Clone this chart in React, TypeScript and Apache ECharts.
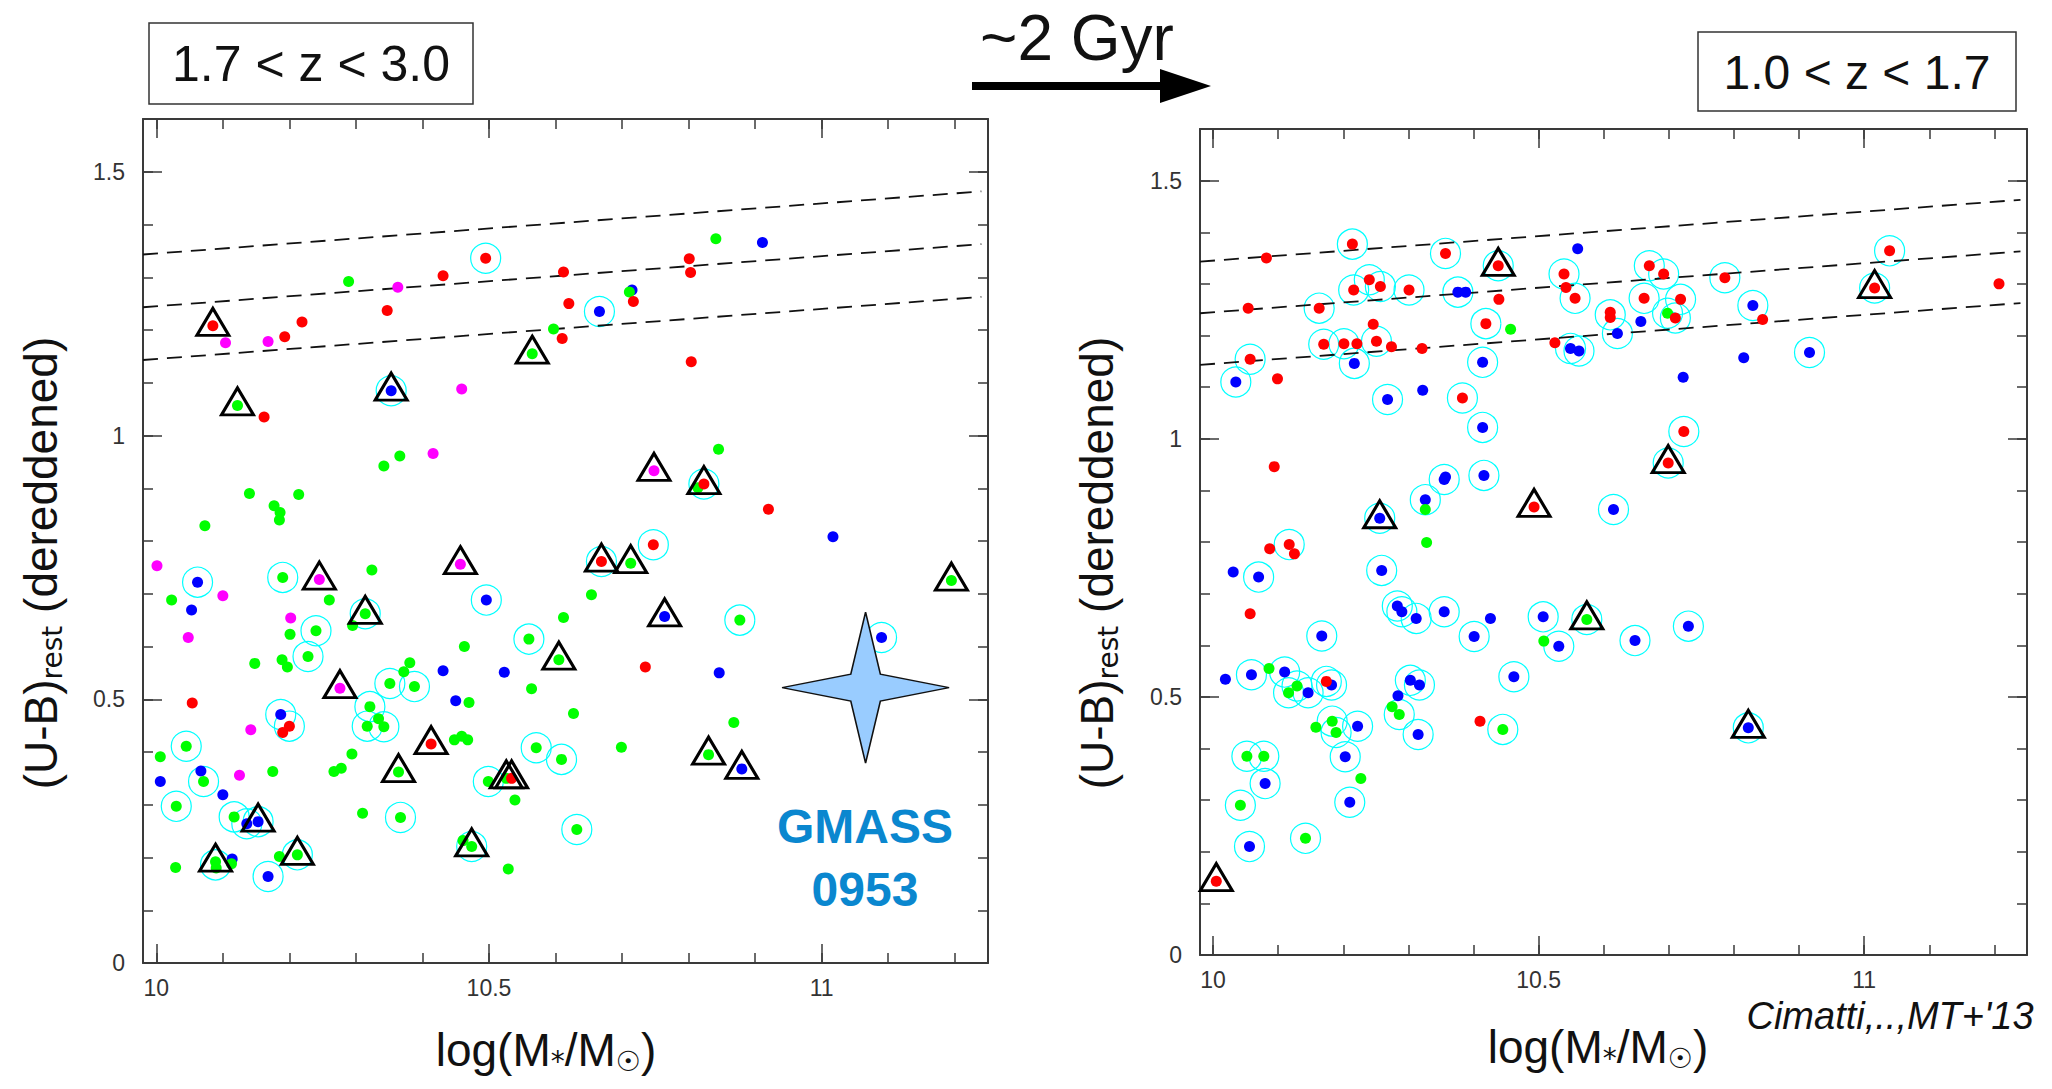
import React, { useEffect, useRef } from 'react';
import * as echarts from 'echarts';

// ---------- axes ----------
const xRange = [9.98, 11.25];
const yRange = [0, 1.6];
const xMinorTicks = [10.0, 10.1, 10.2, 10.3, 10.4, 10.5, 10.6, 10.7, 10.8, 10.9, 11.0, 11.1, 11.2];
const xMajorTicks = [10, 10.5, 11];
const yMinorTicks = [0.1, 0.2, 0.3, 0.4, 0.5, 0.6, 0.7, 0.8, 0.9, 1.0, 1.1, 1.2, 1.3, 1.4, 1.5];
const yMajorTicks = [0, 0.5, 1, 1.5];

// red-sequence dashed lines: y = offset + slope * (x - 10)
const redSeqOffsets = [1.345, 1.245, 1.145];
const redSeqSlope = 0.095;
const redSeqX = [9.98, 11.24];

// ---------- left panel: 1.7 < z < 3.0 ----------
const leftRed = [
  [10.085, 1.208], [10.193, 1.187], [10.219, 1.215], [10.347, 1.237], [10.431, 1.303], [10.495, 1.336],
  [10.612, 1.31], [10.62, 1.25], [10.61, 1.184], [10.162, 1.035], [10.717, 1.254], [10.801, 1.335],
  [10.803, 1.309], [10.804, 1.14], [10.823, 0.908], [10.92, 0.86], [10.747, 0.793], [10.054, 0.493],
  [10.2, 0.449], [10.19, 0.437], [10.413, 0.415], [10.534, 0.35], [10.669, 0.761], [10.735, 0.561],
];
const leftGreen = [
  [10.289, 1.292], [10.597, 1.202], [10.565, 1.155], [10.122, 1.057], [10.342, 0.942], [10.366, 0.961],
  [10.14, 0.89], [10.177, 0.867], [10.186, 0.854], [10.185, 0.84], [10.214, 0.888], [10.073, 0.829],
  [10.711, 1.272], [10.841, 1.373], [10.845, 0.974], [10.814, 0.901],
  [10.19, 0.731], [10.324, 0.745], [10.023, 0.688], [10.26, 0.688], [10.314, 0.662], [10.295, 0.64],
  [10.201, 0.623], [10.24, 0.63], [10.612, 0.655], [10.56, 0.614], [10.463, 0.6], [10.228, 0.581],
  [10.148, 0.568], [10.189, 0.575], [10.197, 0.561], [10.605, 0.575], [10.381, 0.569], [10.372, 0.552],
  [10.351, 0.53], [10.388, 0.524], [10.564, 0.52], [10.47, 0.494], [10.627, 0.473], [10.321, 0.486],
  [10.334, 0.463], [10.317, 0.449], [10.342, 0.448], [10.448, 0.423], [10.459, 0.43], [10.468, 0.423],
  [10.571, 0.408], [10.609, 0.386], [10.294, 0.396], [10.267, 0.363], [10.278, 0.369], [10.175, 0.363],
  [10.364, 0.362], [10.045, 0.411], [10.006, 0.391], [10.071, 0.344], [10.03, 0.297], [10.117, 0.277],
  [10.31, 0.284], [10.367, 0.276], [10.499, 0.344], [10.526, 0.35], [10.539, 0.309], [10.632, 0.253],
  [10.474, 0.221], [10.461, 0.232], [10.529, 0.178], [10.089, 0.192], [10.09, 0.18], [10.113, 0.188],
  [10.029, 0.181], [10.185, 0.202], [10.212, 0.205],
  [10.713, 0.758], [11.195, 0.725], [10.654, 0.698], [10.877, 0.65], [10.868, 0.456], [10.699, 0.409],
  [10.83, 0.395],
];
const leftBlue = [
  [10.353, 1.085], [10.666, 1.235], [10.715, 1.276], [10.911, 1.366], [11.017, 0.808], [10.062, 0.722],
  [10.496, 0.688], [10.053, 0.669], [10.431, 0.554], [10.523, 0.551], [10.45, 0.497], [10.187, 0.471],
  [10.006, 0.344], [10.067, 0.364], [10.1, 0.319], [10.136, 0.264], [10.153, 0.268], [10.114, 0.197],
  [10.168, 0.164], [10.764, 0.657], [11.09, 0.617], [10.846, 0.55], [10.88, 0.368],
];
const leftMagenta = [
  [10.104, 1.176], [10.168, 1.178], [10.363, 1.281], [10.459, 1.088], [10.416, 0.966], [10.001, 0.753],
  [10.245, 0.727], [10.457, 0.756], [10.1, 0.696], [10.202, 0.654], [10.048, 0.617], [10.276, 0.521],
  [10.142, 0.442], [10.125, 0.356], [10.748, 0.933],
];
const leftRings = [
  [10.495, 1.336], [10.353, 1.085], [10.666, 1.235], [10.823, 0.908], [10.747, 0.793], [10.062, 0.722],
  [10.19, 0.731], [10.496, 0.688], [10.314, 0.662], [10.24, 0.63], [10.56, 0.614], [10.228, 0.581],
  [10.351, 0.53], [10.388, 0.524], [10.187, 0.471], [10.2, 0.449], [10.321, 0.486], [10.317, 0.449],
  [10.342, 0.448], [10.571, 0.408], [10.609, 0.386], [10.045, 0.411], [10.071, 0.344], [10.03, 0.297],
  [10.117, 0.277], [10.136, 0.264], [10.153, 0.268], [10.367, 0.276], [10.499, 0.344], [10.632, 0.253],
  [10.474, 0.221], [10.089, 0.186], [10.212, 0.205], [10.168, 0.164], [10.669, 0.761], [10.877, 0.65],
  [11.09, 0.617],
];
const leftTriangles = [
  [10.085, 1.208], [10.565, 1.155], [10.353, 1.085], [10.122, 1.057], [10.748, 0.933], [10.823, 0.908],
  [10.245, 0.727], [10.457, 0.756], [10.314, 0.662], [10.605, 0.575], [10.276, 0.521], [10.413, 0.415],
  [10.364, 0.362], [10.526, 0.35], [10.534, 0.35], [10.153, 0.268], [10.474, 0.221], [10.089, 0.192],
  [10.212, 0.205], [10.669, 0.761], [10.713, 0.758], [11.195, 0.725], [10.764, 0.657], [10.83, 0.395],
  [10.88, 0.368],
];
const gmassPoint = [[11.066, 0.522]];

// ---------- right panel: 1.0 < z < 1.7 ----------
const rightRed = [
  [10.082, 1.35], [10.214, 1.377], [10.357, 1.359], [10.438, 1.335], [10.539, 1.319], [10.542, 1.293],
  [10.556, 1.272], [10.61, 1.245], [10.61, 1.235], [10.24, 1.308], [10.257, 1.295], [10.216, 1.288],
  [10.301, 1.288], [10.439, 1.27], [10.054, 1.253], [10.163, 1.253], [10.246, 1.222], [10.419, 1.223],
  [10.17, 1.183], [10.201, 1.184], [10.221, 1.184], [10.251, 1.189], [10.274, 1.178], [10.321, 1.175],
  [10.057, 1.154], [10.525, 1.186], [10.099, 1.116], [10.383, 1.079], [10.094, 0.946], [10.493, 0.868],
  [10.67, 1.335], [10.692, 1.319], [10.662, 1.272], [10.718, 1.27], [10.71, 1.234], [10.786, 1.312],
  [10.844, 1.231], [11.039, 1.364], [11.016, 1.292], [11.207, 1.3], [10.723, 1.014], [10.699, 0.953],
  [10.117, 0.795], [10.087, 0.787], [10.125, 0.777], [10.057, 0.661], [10.174, 0.53], [10.41, 0.453],
  [10.005, 0.143],
];
const rightGreen = [
  [10.457, 1.212], [10.326, 0.863], [10.328, 0.799], [10.698, 1.243], [10.574, 0.65], [10.508, 0.608],
  [10.086, 0.555], [10.129, 0.521], [10.116, 0.508], [10.275, 0.481], [10.286, 0.466], [10.445, 0.437],
  [10.158, 0.441], [10.183, 0.453], [10.189, 0.431], [10.052, 0.385], [10.078, 0.385], [10.227, 0.342],
  [10.042, 0.29], [10.142, 0.226],
];
const rightBlue = [
  [10.56, 1.368], [10.621, 1.204], [10.376, 1.284], [10.388, 1.284], [10.549, 1.175], [10.562, 1.17],
  [10.217, 1.146], [10.414, 1.148], [10.035, 1.11], [10.268, 1.076], [10.322, 1.094], [10.414, 1.022],
  [10.355, 0.921], [10.357, 0.926], [10.416, 0.929], [10.326, 0.882], [10.256, 0.846], [10.615, 0.863],
  [10.657, 1.227], [10.829, 1.258], [10.916, 1.167], [10.815, 1.157], [10.722, 1.119], [10.031, 0.742],
  [10.07, 0.732], [10.259, 0.745], [10.283, 0.676], [10.29, 0.665], [10.312, 0.652], [10.355, 0.665],
  [10.401, 0.617], [10.426, 0.652], [10.507, 0.655], [10.531, 0.598], [10.167, 0.618], [10.019, 0.534],
  [10.059, 0.543], [10.11, 0.548], [10.146, 0.508], [10.182, 0.523], [10.303, 0.532], [10.317, 0.523],
  [10.284, 0.502], [10.462, 0.539], [10.315, 0.427], [10.222, 0.443], [10.203, 0.384], [10.08, 0.332],
  [10.21, 0.296], [10.056, 0.21], [10.648, 0.609], [10.73, 0.637], [10.822, 0.44],
];
const rightRings = [
  [10.214, 1.377], [10.357, 1.359], [10.438, 1.335], [10.539, 1.319], [10.556, 1.272], [10.61, 1.24],
  [10.621, 1.204], [10.24, 1.308], [10.257, 1.295], [10.216, 1.288], [10.301, 1.288], [10.376, 1.284],
  [10.163, 1.253], [10.419, 1.223], [10.17, 1.183], [10.201, 1.184], [10.251, 1.189], [10.057, 1.154],
  [10.549, 1.175], [10.562, 1.17], [10.217, 1.146], [10.414, 1.148], [10.035, 1.11], [10.268, 1.076],
  [10.383, 1.079], [10.414, 1.022], [10.355, 0.921], [10.416, 0.929], [10.326, 0.882], [10.256, 0.846],
  [10.615, 0.863], [10.67, 1.335], [10.692, 1.319], [10.662, 1.272], [10.718, 1.27], [10.698, 1.243],
  [10.71, 1.234], [10.786, 1.312], [10.829, 1.258], [11.039, 1.364], [11.016, 1.292], [10.916, 1.167],
  [10.723, 1.014], [10.699, 0.953], [10.117, 0.795], [10.07, 0.732], [10.259, 0.745], [10.283, 0.676],
  [10.29, 0.665], [10.312, 0.652], [10.355, 0.665], [10.401, 0.617], [10.507, 0.655], [10.574, 0.65],
  [10.531, 0.598], [10.167, 0.618], [10.059, 0.543], [10.11, 0.548], [10.129, 0.521], [10.116, 0.508],
  [10.146, 0.508], [10.174, 0.53], [10.182, 0.523], [10.303, 0.532], [10.317, 0.523], [10.462, 0.539],
  [10.286, 0.466], [10.315, 0.427], [10.445, 0.437], [10.183, 0.453], [10.189, 0.431], [10.222, 0.443],
  [10.203, 0.384], [10.052, 0.385], [10.078, 0.385], [10.08, 0.332], [10.21, 0.296], [10.042, 0.29],
  [10.142, 0.226], [10.056, 0.21], [10.648, 0.609], [10.73, 0.637], [10.822, 0.44],
];
const rightTriangles = [
  [10.438, 1.335], [10.256, 0.846], [10.493, 0.868], [11.016, 1.292], [10.699, 0.953], [10.574, 0.65],
  [10.005, 0.143], [10.822, 0.44],
];

const FONT = "'Liberation Sans', Arial, Helvetica, sans-serif";
const SYMFONT = "'DejaVu Sans', 'Liberation Sans', sans-serif";
const FRAME = '#3a3a3a';
const TICKFONT = 23;

function makeXAxes(gridIndex: number) {
  const base: any = {
    type: 'value', gridIndex, min: xRange[0], max: xRange[1],
    splitLine: { show: false },
    axisLine: { show: false, onZero: false },
    axisLabel: { show: false },
    axisTick: { show: false },
  };
  const line = { show: true, onZero: false, lineStyle: { color: FRAME, width: 2 } };
  const minor = { show: true, inside: true, length: 10, customValues: xMinorTicks, lineStyle: { color: FRAME, width: 1.5 } };
  const major = { show: true, inside: true, length: 19, customValues: xMajorTicks, lineStyle: { color: FRAME, width: 1.5 } };
  return [
    {
      ...base, position: 'bottom', axisLine: line, axisTick: minor,
      axisLabel: {
        show: true, customValues: xMajorTicks, margin: 13, color: '#333', fontSize: TICKFONT, fontFamily: FONT,
        formatter: (v: number) => String(v),
      },
    },
    { ...base, position: 'bottom', axisTick: major },
    { ...base, position: 'top', axisLine: line, axisTick: minor },
    { ...base, position: 'top', axisTick: major },
  ];
}

function makeYAxes(gridIndex: number, margin: number) {
  const base: any = {
    type: 'value', gridIndex, min: yRange[0], max: yRange[1],
    splitLine: { show: false },
    axisLine: { show: false, onZero: false },
    axisLabel: { show: false },
    axisTick: { show: false },
  };
  const line = { show: true, onZero: false, lineStyle: { color: FRAME, width: 2 } };
  const minor = { show: true, inside: true, length: 10, customValues: yMinorTicks, lineStyle: { color: FRAME, width: 1.5 } };
  const major = { show: true, inside: true, length: 19, customValues: yMajorTicks, lineStyle: { color: FRAME, width: 1.5 } };
  return [
    {
      ...base, position: 'left', axisLine: line, axisTick: minor,
      axisLabel: {
        show: true, customValues: yMajorTicks, margin, color: '#333', fontSize: TICKFONT, fontFamily: FONT,
        formatter: (v: number) => String(v),
      },
    },
    { ...base, position: 'left', axisTick: major },
    { ...base, position: 'right', axisLine: line, axisTick: minor },
    { ...base, position: 'right', axisTick: major },
  ];
}

function panelSeries(axisIndex: number, red: number[][], green: number[][], blue: number[][], magenta: number[][], rings: number[][], tris: number[][]) {
  const ax = { xAxisIndex: axisIndex, yAxisIndex: axisIndex };
  const dot = (data: number[][], color: string) => ({
    type: 'scatter', ...ax, data, symbol: 'circle', symbolSize: 11, z: 4,
    itemStyle: { color, opacity: 1 }, silent: true,
  });
  const lines = redSeqOffsets.map((off) => ({
    type: 'line', ...ax, z: 3, symbol: 'none', silent: true,
    data: redSeqX.map((x) => [x, off + redSeqSlope * (x - 10)]),
    lineStyle: { color: '#111', width: 1.8, type: [15, 9] },
  }));
  const out: any[] = [
    {
      type: 'scatter', ...ax, data: rings, symbol: 'circle', symbolSize: 30, z: 2, silent: true,
      itemStyle: { color: 'rgba(0,0,0,0)', borderColor: '#00ffff', borderWidth: 1.2, opacity: 1 },
    },
    ...lines,
    dot(blue, '#0000ff'),
    dot(green, '#00ff00'),
    dot(red, '#ff0000'),
  ];
  if (magenta.length) out.push(dot(magenta, '#ff00ff'));
  out.push({
    type: 'scatter', ...ax, data: tris, symbol: 'triangle', symbolSize: [32, 27], symbolOffset: [0, -4], z: 5, silent: true,
    itemStyle: { color: 'rgba(0,0,0,0)', borderColor: '#000', borderWidth: 3, opacity: 1 },
  });
  return out;
}

const subRich = {
  s: { fontSize: 28, fontFamily: SYMFONT, fill: '#111', padding: [22, 0, 0, 0], verticalAlign: 'bottom' },
};

export default function App() {
  const ref = useRef<HTMLDivElement>(null);
  useEffect(() => {
    document.body.style.margin = '0';
    document.body.style.overflow = 'hidden';
    const chart = echarts.init(ref.current!, null, { renderer: 'svg' });
    const option: any = {
      animation: false,
      backgroundColor: '#ffffff',
      grid: [
        { left: 143, top: 119, width: 845, height: 844 },
        { left: 1200, top: 129, width: 827, height: 826 },
      ],
      xAxis: [...makeXAxes(0), ...makeXAxes(1)],
      yAxis: [...makeYAxes(0, 18), ...makeYAxes(1, 18)],
      series: [
        ...panelSeries(0, leftRed, leftGreen, leftBlue, leftMagenta, leftRings, leftTriangles),
        {
          type: 'scatter', xAxisIndex: 0, yAxisIndex: 0, data: gmassPoint, z: 6, silent: true,
          symbol: 'path://M83,0 L97.7,61.7 L166,75 L97.7,88.3 L83,150 L68.3,88.3 L0,75 L68.3,61.7 Z',
          symbolSize: [167, 151],
          itemStyle: { color: '#99ccff', borderColor: '#111', borderWidth: 1.5, opacity: 1 },
        },
        ...panelSeries(4, rightRed, rightGreen, rightBlue, [], rightRings, rightTriangles),
      ],
      graphic: [
        { type: 'rect', shape: { x: 149, y: 23, width: 324, height: 81 }, style: { fill: '#fff', stroke: '#333', lineWidth: 1.5 } },
        { type: 'text', x: 311, y: 64, style: { text: '1.7 < z < 3.0', fontSize: 50, fontFamily: FONT, fill: '#111', align: 'center', verticalAlign: 'middle' } },
        { type: 'rect', shape: { x: 1698, y: 32, width: 318, height: 79 }, style: { fill: '#fff', stroke: '#333', lineWidth: 1.5 } },
        { type: 'text', x: 1857, y: 72, style: { text: '1.0 < z < 1.7', fontSize: 48, fontFamily: FONT, fill: '#111', align: 'center', verticalAlign: 'middle' } },
        { type: 'text', x: 1077, y: 38, style: { text: '~2 Gyr', fontSize: 64, fontFamily: FONT, fill: '#111', align: 'center', verticalAlign: 'middle' } },
        { type: 'rect', shape: { x: 972, y: 82, width: 192, height: 8 }, style: { fill: '#000' } },
        { type: 'polygon', shape: { points: [[1160, 69], [1211, 86], [1160, 103]] }, style: { fill: '#000' } },
        {
          type: 'text', x: 546, y: 1050,
          style: { text: 'log(M{s|*}/M{s|☉})', fontSize: 46, fontFamily: FONT, fill: '#111', align: 'center', verticalAlign: 'middle', rich: subRich },
        },
        {
          type: 'text', x: 1598, y: 1047,
          style: { text: 'log(M{s|*}/M{s|☉})', fontSize: 46, fontFamily: FONT, fill: '#111', align: 'center', verticalAlign: 'middle', rich: subRich },
        },
        {
          type: 'text', x: 41, y: 563, rotation: Math.PI / 2,
          style: { text: '(U-B){s|rest} (dereddened)', fontSize: 46, fontFamily: FONT, fill: '#111', align: 'center', verticalAlign: 'middle', rich: subRich },
        },
        {
          type: 'text', x: 1097, y: 563, rotation: Math.PI / 2,
          style: { text: '(U-B){s|rest} (dereddened)', fontSize: 46, fontFamily: FONT, fill: '#111', align: 'center', verticalAlign: 'middle', rich: subRich },
        },
        { type: 'text', x: 865, y: 826, z: 10, style: { text: 'GMASS', fontSize: 48, fontWeight: 'bold', fontFamily: FONT, fill: '#0a87cf', align: 'center', verticalAlign: 'middle' } },
        { type: 'text', x: 865, y: 889, z: 10, style: { text: '0953', fontSize: 48, fontWeight: 'bold', fontFamily: FONT, fill: '#0a87cf', align: 'center', verticalAlign: 'middle' } },
        { type: 'text', x: 1890, y: 1016, style: { text: "Cimatti,..,MT+'13", fontSize: 38, fontStyle: 'italic', fontFamily: FONT, fill: '#111', align: 'center', verticalAlign: 'middle' } },
      ],
    };
    chart.setOption(option);
    return () => chart.dispose();
  }, []);
  return <div ref={ref} style={{ width: 2052, height: 1089 }} />;
}
